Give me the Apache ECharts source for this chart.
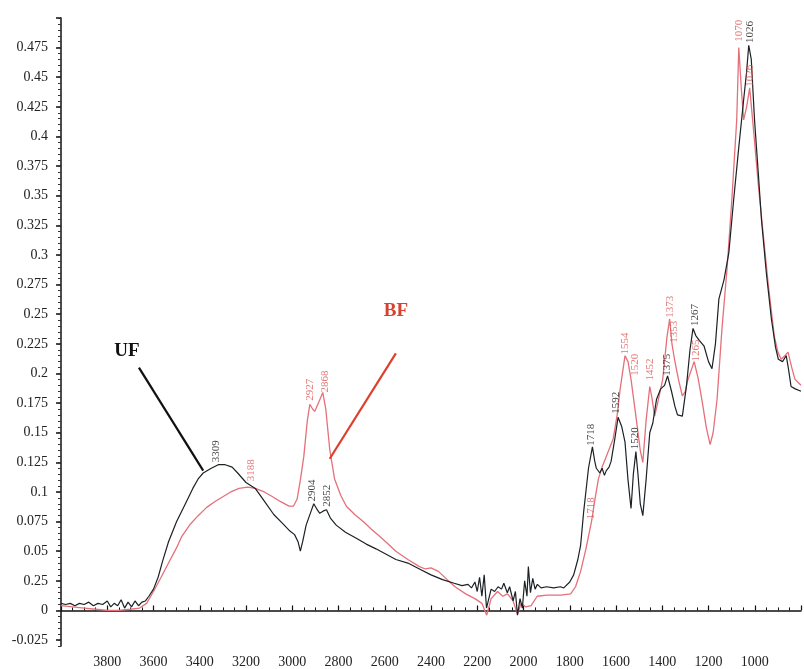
<!DOCTYPE html>
<html>
<head>
<meta charset="utf-8">
<script src="https://cdn.jsdelivr.net/npm/echarts@6/dist/echarts.min.js"></script>
<style>
  html, body { margin: 0; padding: 0; background: #fff; }
  #main { width: 804px; height: 669px; }
</style>
</head>
<body>
<div id="main"></div>
<script>
// FTIR spectra, wavenumber (cm-1) vs absorbance
var ufWave = [4000, 3980, 3960, 3940, 3920, 3900, 3880, 3860, 3840, 3820, 3800, 3785, 3770, 3755, 3740, 3725, 3710, 3695, 3680, 3665, 3650, 3635, 3620, 3600, 3580, 3560, 3535, 3500, 3462, 3430, 3407, 3385, 3350, 3320, 3290, 3260, 3236, 3200, 3160, 3120, 3080, 3040, 3010, 2990, 2975, 2965, 2955, 2940, 2920, 2907, 2895, 2881, 2865, 2852, 2835, 2810, 2770, 2723, 2680, 2638, 2600, 2552, 2500, 2450, 2400, 2350, 2300, 2266, 2240, 2225, 2210, 2200, 2190, 2180, 2170, 2160, 2150, 2140, 2125, 2110, 2095, 2085, 2070, 2060, 2045, 2035, 2026, 2015, 2005, 1995, 1985, 1979, 1970, 1960, 1950, 1940, 1924, 1900, 1870, 1840, 1826, 1800, 1783, 1765, 1753, 1740, 1732, 1719, 1702, 1692, 1685, 1670, 1660, 1650, 1642, 1630, 1621, 1605, 1591, 1575, 1561, 1548, 1535, 1525, 1514, 1505, 1495, 1484, 1470, 1454, 1441, 1425, 1407, 1390, 1377, 1360, 1345, 1334, 1313, 1295, 1280, 1267, 1255, 1240, 1219, 1200, 1185, 1170, 1155, 1133, 1112, 1091, 1069, 1048, 1035, 1026, 1015, 1001, 985, 971, 950, 928, 910, 898, 880, 864, 855, 843, 825, 800];
var ufAbs = [0.006, 0.005, 0.006, 0.004, 0.006, 0.005, 0.007, 0.004, 0.006, 0.005, 0.008, 0.003, 0.006, 0.004, 0.009, 0.002, 0.007, 0.003, 0.008, 0.004, 0.007, 0.008, 0.012, 0.018, 0.028, 0.042, 0.058, 0.075, 0.090, 0.103, 0.111, 0.116, 0.120, 0.123, 0.123, 0.121, 0.116, 0.108, 0.103, 0.092, 0.081, 0.073, 0.067, 0.064, 0.058, 0.050, 0.058, 0.072, 0.083, 0.090, 0.086, 0.082, 0.084, 0.085, 0.078, 0.072, 0.066, 0.061, 0.056, 0.052, 0.048, 0.043, 0.040, 0.035, 0.030, 0.026, 0.023, 0.021, 0.022, 0.019, 0.024, 0.016, 0.028, 0.012, 0.030, 0.002, 0.010, 0.018, 0.016, 0.020, 0.018, 0.023, 0.015, 0.020, 0.008, 0.016, -0.004, 0.010, 0.002, 0.025, 0.012, 0.037, 0.015, 0.027, 0.018, 0.022, 0.019, 0.020, 0.019, 0.020, 0.019, 0.024, 0.030, 0.043, 0.055, 0.083, 0.097, 0.120, 0.138, 0.126, 0.120, 0.116, 0.120, 0.114, 0.118, 0.121, 0.126, 0.145, 0.163, 0.155, 0.142, 0.110, 0.086, 0.115, 0.134, 0.115, 0.090, 0.080, 0.110, 0.150, 0.158, 0.178, 0.187, 0.190, 0.198, 0.185, 0.172, 0.165, 0.164, 0.190, 0.220, 0.238, 0.232, 0.228, 0.223, 0.210, 0.204, 0.225, 0.263, 0.279, 0.302, 0.347, 0.391, 0.431, 0.455, 0.477, 0.465, 0.414, 0.370, 0.330, 0.285, 0.246, 0.222, 0.212, 0.210, 0.215, 0.205, 0.189, 0.187, 0.185];

var bfWave = [4000, 3950, 3900, 3850, 3800, 3750, 3700, 3660, 3630, 3600, 3570, 3535, 3500, 3479, 3440, 3407, 3370, 3334, 3300, 3266, 3230, 3193, 3160, 3121, 3085, 3052, 3014, 2995, 2979, 2965, 2950, 2935, 2924, 2912, 2903, 2885, 2868, 2855, 2838, 2817, 2790, 2766, 2730, 2693, 2660, 2625, 2590, 2552, 2500, 2450, 2424, 2400, 2368, 2330, 2296, 2250, 2210, 2180, 2159, 2140, 2112, 2090, 2069, 2045, 2026, 2010, 1990, 1967, 1941, 1900, 1838, 1796, 1775, 1753, 1730, 1706, 1690, 1676, 1660, 1642, 1612, 1595, 1582, 1561, 1548, 1535, 1514, 1495, 1484, 1470, 1454, 1445, 1433, 1420, 1398, 1380, 1368, 1358, 1347, 1330, 1313, 1300, 1292, 1262, 1245, 1227, 1210, 1193, 1180, 1163, 1142, 1120, 1099, 1078, 1069, 1058, 1048, 1035, 1022, 1005, 984, 962, 941, 915, 900, 886, 870, 856, 840, 826, 800];
var bfAbs = [0.004, 0.003, 0.002, 0.001, 0.000, 0.000, 0.001, 0.002, 0.006, 0.016, 0.027, 0.040, 0.053, 0.062, 0.073, 0.080, 0.087, 0.092, 0.096, 0.100, 0.103, 0.104, 0.103, 0.100, 0.096, 0.092, 0.088, 0.088, 0.094, 0.110, 0.130, 0.160, 0.174, 0.170, 0.168, 0.176, 0.184, 0.170, 0.136, 0.111, 0.097, 0.088, 0.081, 0.075, 0.069, 0.063, 0.057, 0.050, 0.043, 0.037, 0.035, 0.036, 0.033, 0.026, 0.020, 0.014, 0.010, 0.006, -0.004, 0.010, 0.016, 0.012, 0.014, 0.008, -0.003, 0.006, 0.003, 0.004, 0.012, 0.013, 0.013, 0.014, 0.020, 0.033, 0.052, 0.075, 0.095, 0.111, 0.121, 0.130, 0.145, 0.165, 0.187, 0.215, 0.210, 0.195, 0.164, 0.135, 0.125, 0.160, 0.189, 0.180, 0.164, 0.175, 0.195, 0.230, 0.246, 0.225, 0.212, 0.195, 0.181, 0.185, 0.193, 0.210, 0.196, 0.176, 0.155, 0.140, 0.150, 0.178, 0.237, 0.288, 0.347, 0.414, 0.475, 0.440, 0.414, 0.425, 0.441, 0.405, 0.358, 0.315, 0.274, 0.231, 0.218, 0.212, 0.215, 0.218, 0.205, 0.195, 0.190];

// peak labels and where each one starts
var ufPeakLabels = ['3309', '2904', '2852', '1718', '1592', '1520', '1375', '1267', '1026'];
var ufPeakAt = [[3330, 0.125], [2915, 0.092], [2851, 0.0875], [1706, 0.139], [1599, 0.166], [1518, 0.136], [1377, 0.198], [1257, 0.240], [1022, 0.479]];
var bfPeakLabels = ['3188', '2927', '2868', '1718', '1554', '1520', '1452', '1373', '1353', '1265', '1070', '1026'];
var bfPeakAt = [[3180, 0.109], [2924, 0.177], [2860, 0.184], [1706, 0.077], [1561, 0.216], [1518, 0.198], [1454, 0.194], [1368, 0.247], [1347, 0.226], [1253, 0.210], [1069, 0.480], [1022, 0.442]];

// y tick marks (the 0.025 tick is printed as "0.25" in the original)
var yTickValues = [-0.025, 0, 0.025, 0.05, 0.075, 0.1, 0.125, 0.15, 0.175, 0.2, 0.225, 0.25, 0.275, 0.3, 0.325, 0.35, 0.375, 0.4, 0.425, 0.45, 0.475];
var yTickLabels = ['-0.025', '0', '0.25', '0.05', '0.075', '0.1', '0.125', '0.15', '0.175', '0.2', '0.225', '0.25', '0.275', '0.3', '0.325', '0.35', '0.375', '0.4', '0.425', '0.45', '0.475'];

var BLACK = '#1b2124';
var RED = '#e5707a';
var serif = 'Liberation Serif';

function pairs(xs, ys) {
  return xs.map(function (x, i) { return [x, ys[i]]; });
}

function peakSeries(at, labels, color) {
  return {
    type: 'scatter',
    data: at,
    symbolSize: 0,
    silent: true,
    z: 5,
    label: {
      show: true,
      position: [0, 0],
      rotate: 90,
      align: 'left',
      verticalAlign: 'middle',
      fontFamily: serif,
      fontSize: 11,
      color: color,
      formatter: function (p) { return labels[p.dataIndex]; }
    }
  };
}

var chart = echarts.init(document.getElementById('main'));
chart.setOption({
  backgroundColor: '#fff',
  animation: false,
  grid: { left: 61, right: -6, top: 18, bottom: 21 },
  xAxis: {
    type: 'value',
    inverse: true,
    min: 800,
    max: 4000,
    interval: 200,
    axisLine: { show: true, lineStyle: { color: '#111', width: 1.5 } },
    axisTick: { show: true, inside: true, length: 5, lineStyle: { color: '#111', width: 1.2 } },
    minorTick: { show: true, splitNumber: 4, length: 3, lineStyle: { color: '#111' } },
    splitLine: { show: false },
    axisLabel: {
      margin: 9,
      fontFamily: serif,
      fontSize: 14,
      color: '#222',
      formatter: function (v) { return (v === 800 || v === 4000) ? '' : String(v); }
    }
  },
  yAxis: [{
    type: 'value',
    min: -0.03,
    max: 0.5,
    axisLine: { show: true, lineStyle: { color: '#111', width: 1.5 } },
    axisTick: { show: true, length: 5, customValues: yTickValues.concat([0.5]), lineStyle: { color: '#111', width: 1.5 } },
    splitLine: { show: false },
    axisLabel: {
      margin: 13,
      fontFamily: serif,
      fontSize: 14,
      color: '#222',
      customValues: yTickValues,
      formatter: function (v) {
        for (var i = 0; i < yTickValues.length; i++) {
          if (Math.abs(yTickValues[i] - v) < 1e-6) return yTickLabels[i];
        }
        return '';
      }
    }
  }, {
    type: 'value',
    min: -0.03,
    max: 0.5,
    interval: 0.005,
    position: 'left',
    axisLine: { show: false },
    axisTick: { show: true, length: 3, lineStyle: { color: '#333' } },
    axisLabel: { show: false },
    splitLine: { show: false }
  }],
  series: [{
    name: 'BF',
    type: 'line',
    data: pairs(bfWave, bfAbs),
    showSymbol: false,
    lineStyle: { color: RED, width: 1.3 },
    z: 2,
    markLine: {
      silent: true,
      symbol: 'none',
      lineStyle: { color: '#de3f2b', width: 2.2, type: 'solid' },
      label: { show: false },
      data: [[{ coord: [2552, 0.217] }, { coord: [2838, 0.128] }]]
    },
    markPoint: {
      silent: true,
      symbolSize: 0,
      label: { show: true, position: 'inside', formatter: 'BF', fontFamily: serif, fontWeight: 'bold', fontSize: 19, color: '#d8412f' },
      data: [{ coord: [2552, 0.2525] }]
    }
  }, {
    name: 'UF',
    type: 'line',
    data: pairs(ufWave, ufAbs),
    showSymbol: false,
    lineStyle: { color: BLACK, width: 1.2 },
    z: 3,
    markLine: {
      silent: true,
      symbol: 'none',
      lineStyle: { color: '#111', width: 2.2, type: 'solid' },
      label: { show: false },
      data: [[{ coord: [3663, 0.205] }, { coord: [3385, 0.118] }]]
    },
    markPoint: {
      silent: true,
      symbolSize: 0,
      label: { show: true, position: 'inside', formatter: 'UF', fontFamily: serif, fontWeight: 'bold', fontSize: 19, color: '#111' },
      data: [{ coord: [3715, 0.219] }]
    }
  },
  peakSeries(ufPeakAt, ufPeakLabels, '#111'),
  peakSeries(bfPeakAt, bfPeakLabels, '#d9534f')
  ]
});
</script>
</body>
</html>
